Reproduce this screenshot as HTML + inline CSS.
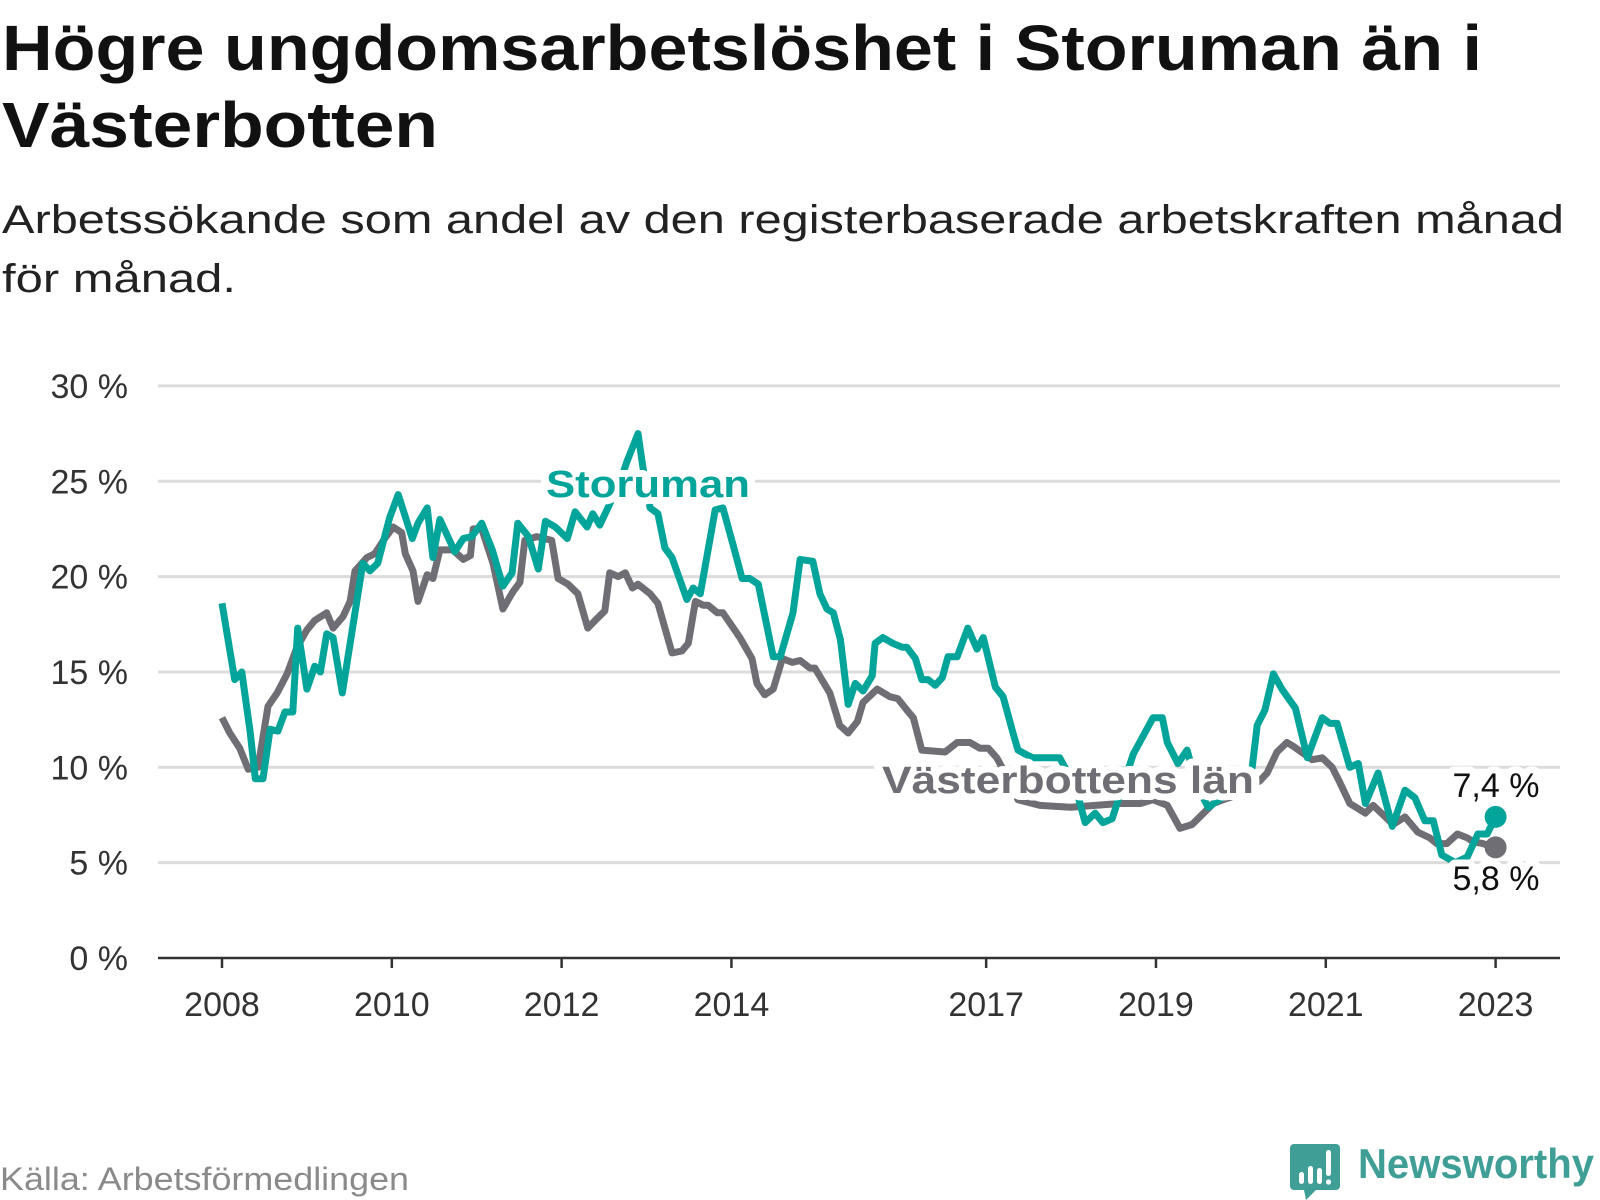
<!DOCTYPE html>
<html><head><meta charset="utf-8">
<style>
html,body{margin:0;padding:0;background:#fff;}
svg{display:block;font-family:"Liberation Sans",sans-serif;}
</style></head>
<body>
<svg id="chart" width="1600" height="1200" viewBox="0 0 1600 1200" xmlns="http://www.w3.org/2000/svg">
  <text x="2" y="70" font-size="64" font-weight="bold" fill="#111" textLength="1480" lengthAdjust="spacingAndGlyphs">Högre ungdomsarbetslöshet i Storuman än i</text>
  <text x="2" y="147" font-size="64" font-weight="bold" fill="#111" textLength="436" lengthAdjust="spacingAndGlyphs">Västerbotten</text>
  <text x="2" y="233" font-size="40" fill="#222" textLength="1562" lengthAdjust="spacingAndGlyphs">Arbetssökande som andel av den registerbaserade arbetskraften månad</text>
  <text x="2" y="292" font-size="40" fill="#222" textLength="234" lengthAdjust="spacingAndGlyphs">för månad.</text>
  <g id="grid"></g>
  <g id="axes"></g>
  <g id="series"></g>
  <g id="labels"></g>
  <text x="0" y="1190" font-size="32" fill="#8a8a8a" textLength="409" lengthAdjust="spacingAndGlyphs">Källa: Arbetsförmedlingen</text>
  <g>
    <path d="M1294 1144 h42 a4 4 0 0 1 4 4 v38 a4 4 0 0 1 -4 4 h-20 l-10 10 l-2 -10 h-10 a4 4 0 0 1 -4 -4 v-38 a4 4 0 0 1 4 -4z" fill="#3f9f97"/>
    <rect x="1299" y="1172" width="5" height="12" rx="2.5" fill="#fff"/>
    <rect x="1308" y="1166" width="5" height="18" rx="2.5" fill="#fff"/>
    <rect x="1317" y="1168" width="5" height="16" rx="2.5" fill="#fff"/>
    <rect x="1326" y="1150" width="5" height="26" rx="2.5" fill="#fff"/>
    <circle cx="1328.5" cy="1182" r="2.6" fill="#fff"/>
    <text x="1358" y="1178" font-size="42" font-weight="bold" fill="#3f9f97" textLength="236" lengthAdjust="spacingAndGlyphs">Newsworthy</text>
  </g>
</svg>
<script>
const yTicks = [0, 5, 10, 15, 20, 25, 30];
const yTickLabels = ["0 %", "5 %", "10 %", "15 %", "20 %", "25 %", "30 %"];
const xTickYears = [2008, 2010, 2012, 2014, 2017, 2019, 2021, 2023];
const xTickLabels = ["2008", "2010", "2012", "2014", "2017", "2019", "2021", "2023"];

// months since Jan 2008
const lanMonths = [0,1.1,2.5,3.7,5.1,6.5,7.8,9.2,10.6,12.0,13.1,14.8,15.7,17.1,18.1,18.8,20.5,21.6,23.0,24.2,25.4,25.9,27.0,27.7,29.0,29.8,30.8,32.6,34.1,35.1,35.5,36.7,38.3,39.7,41.1,42.1,42.8,44.5,46.6,47.5,48.9,50.3,51.7,53.0,54.1,54.8,56.0,57.0,58.0,58.8,60.5,61.6,63.6,65.0,65.9,66.9,68.0,68.7,70.0,70.8,73.2,74.9,75.6,76.7,77.9,79.2,80.6,81.7,83.1,83.8,85.9,87.3,88.5,89.8,90.6,92.6,94.4,95.5,96.8,97.7,98.9,102.2,103.9,105.7,107.1,108.3,109.5,111.1,112.5,115.6,119.9,123.4,126.9,129.8,131.6,133.6,135.4,137.1,138.2,140.1,141.5,143.9,146.7,147.7,149.1,150.5,151.4,154.1,155.5,156.9,158.0,159.4,161.6,162.7,164.7,165.5,167.2,169.0,170.7,171.7,173.1,174.6,176.0,176.8,178.2,180];
const lanValues = [12.6,11.8,11.0,9.9,10.0,13.2,13.9,14.9,16.3,17.2,17.7,18.1,17.3,17.9,18.7,20.3,21.0,21.2,22.0,22.6,22.3,21.2,20.3,18.7,20.1,19.9,21.4,21.4,20.9,21.1,22.5,22.5,20.7,18.3,19.2,19.7,21.9,22.1,21.9,19.9,19.6,19.1,17.3,17.8,18.2,20.2,20.0,20.2,19.4,19.6,19.1,18.6,16.0,16.1,16.5,18.7,18.5,18.5,18.1,18.1,16.8,15.7,14.4,13.8,14.1,15.7,15.5,15.6,15.2,15.2,13.9,12.2,11.8,12.4,13.4,14.1,13.7,13.6,13.0,12.6,10.9,10.8,11.3,11.3,11.0,11.0,10.5,9.4,8.3,8.0,7.9,8.0,8.1,8.1,8.3,8.0,6.8,7.0,7.4,8.1,8.3,8.6,9.3,9.7,10.8,11.3,11.1,10.4,10.5,10.0,9.2,8.1,7.6,8.0,7.3,7.0,7.4,6.6,6.3,6.0,6.0,6.5,6.3,6.1,6.0,5.8];

const stoMonths = [0,1.8,2.8,4.0,4.7,5.8,6.8,7.9,8.9,10.0,10.7,12.0,13.1,13.9,14.8,15.7,17.0,19.9,20.9,22.0,23.7,24.9,26.9,27.7,29.0,29.8,30.8,32.9,34.1,35.3,36.7,38.2,39.7,41.0,41.8,43.3,44.7,45.7,47.1,48.8,49.9,51.6,52.4,53.4,54.4,56.3,57.2,58.8,59.5,60.5,61.6,62.6,63.6,65.7,66.6,67.6,69.7,70.8,72.2,73.5,74.6,75.8,77.9,78.9,80.7,81.7,83.5,84.5,85.5,86.4,87.4,88.5,89.5,90.6,91.9,92.3,93.4,94.8,96.1,96.8,98.0,98.9,99.8,100.8,101.8,102.6,103.9,105.4,106.7,107.6,109.3,110.4,111.8,112.5,113.5,114.6,118.4,120.6,122.0,123.4,124.5,125.8,128.8,131.6,132.9,133.6,135.1,136.4,137.8,139.4,141.3,143.9,145.6,146.3,147.4,148.6,149.8,151.7,153.4,155.5,156.6,157.6,159.4,160.6,161.6,163.4,165.4,167.2,168.6,170.0,171.2,172.4,174.3,176.0,177.5,178.8,180];
const stoValues = [18.6,14.6,15.0,11.8,9.4,9.4,12.0,11.9,12.9,12.9,17.3,14.1,15.3,15.0,17.0,16.8,13.9,20.7,20.3,20.7,23.1,24.3,22.0,22.8,23.6,21.0,23.0,21.3,22.0,22.1,22.8,21.4,19.5,20.2,22.8,22.1,20.4,22.9,22.6,22.0,23.4,22.6,23.3,22.7,23.5,25.0,26.0,27.5,25.7,23.6,23.3,21.5,21.0,18.8,19.4,19.1,23.5,23.6,21.7,19.9,19.9,19.6,15.8,15.8,18.1,20.9,20.8,19.1,18.3,18.1,16.7,13.3,14.4,14.0,14.8,16.5,16.8,16.5,16.3,16.3,15.7,14.6,14.6,14.3,14.7,15.8,15.8,17.3,16.2,16.8,14.2,13.7,11.8,10.9,10.7,10.5,10.5,9.0,7.1,7.6,7.1,7.3,10.7,12.6,12.6,11.3,10.2,10.9,9.0,7.9,8.4,8.8,10.0,12.2,13.0,14.9,14.1,13.1,10.5,12.6,12.3,12.3,10.0,10.2,8.1,9.7,6.9,8.8,8.4,7.2,7.2,5.4,5.0,5.3,6.5,6.5,7.4];

const NS = "http://www.w3.org/2000/svg";
const X0 = 222, PXM = 1273.6 / 180; // px per month
const Y0 = 958, PXV = 19.07;
function xScale(m) { return X0 + m * PXM; }
function xYear(y) { return xScale((y - 2008) * 12); }
function yScale(v) { return Y0 - v * PXV; }
function mk(tag, attrs, parent) {
  const e = document.createElementNS(NS, tag);
  for (const k in attrs) e.setAttribute(k, attrs[k]);
  parent.appendChild(e);
  return e;
}
const grid = document.getElementById('grid');
const axes = document.getElementById('axes');
const series = document.getElementById('series');
const labels = document.getElementById('labels');

yTicks.forEach((t, i) => {
  if (t > 0) {
    const l = mk('line', {x1: 158, x2: 1560, y1: yScale(t), y2: yScale(t), stroke: '#dcdcdc', 'stroke-width': 3}, grid);
    
    
  }
  const tx = mk('text', {x: 128, y: yScale(t) + 12, 'text-anchor': 'end', 'font-size': 34, fill: '#333'}, axes);
  tx.textContent = yTickLabels[i];
  
  
});
const ax = mk('line', {x1: 158, x2: 1560, y1: Y0, y2: Y0, stroke: '#333', 'stroke-width': 2.5}, axes);


xTickYears.forEach((yr, i) => {
  const tk = mk('line', {x1: xYear(yr), x2: xYear(yr), y1: Y0, y2: Y0 + 10, stroke: '#333', 'stroke-width': 2.5}, axes);
  
  
  const tx = mk('text', {x: xYear(yr), y: 1016, 'text-anchor': 'middle', 'font-size': 34, fill: '#333'}, axes);
  tx.textContent = xTickLabels[i];
  
  
});

function pathFor(ms, vs) {
  return ms.map((m, i) => (i ? 'L' : 'M') + xScale(m).toFixed(1) + ' ' + yScale(vs[i]).toFixed(1)).join(' ');
}
const lanPath = mk('path', {d: pathFor(lanMonths, lanValues), fill: 'none', stroke: '#6f6e74', 'stroke-width': 7, 'stroke-linejoin': 'round'}, series);


const stoPath = mk('path', {d: pathFor(stoMonths, stoValues), fill: 'none', stroke: '#03a499', 'stroke-width': 7, 'stroke-linejoin': 'round'}, series);



const lastL = lanMonths.length - 1, lastS = stoMonths.length - 1;
const dl = mk('circle', {cx: xScale(lanMonths[lastL]), cy: yScale(lanValues[lastL]), r: 11, fill: '#6f6e74'}, series);


const ds = mk('circle', {cx: xScale(stoMonths[lastS]), cy: yScale(stoValues[lastS]), r: 11, fill: '#03a499'}, series);



function label(txt, x, y, attrs, name) {
  const t = mk('text', Object.assign({x: x, y: y, 'paint-order': 'stroke', stroke: '#fff', 'stroke-width': 14, 'stroke-linejoin': 'round'}, attrs), labels);
  t.textContent = txt;
  
  
}
label('Storuman', 648, 497, {'text-anchor': 'middle', 'font-size': 38, 'font-weight': 'bold', fill: '#03a499', textLength: 204, lengthAdjust: 'spacingAndGlyphs'}, 'storuman-label');
label('Västerbottens län', 1068, 793, {'text-anchor': 'middle', 'font-size': 38, 'font-weight': 'bold', fill: '#6f6e74', textLength: 372, lengthAdjust: 'spacingAndGlyphs'}, 'vasterbotten-label');
label('7,4 %', 1496, 797, {'text-anchor': 'middle', 'font-size': 34, fill: '#111'}, 'storuman-value-label');
label('5,8 %', 1496, 890, {'text-anchor': 'middle', 'font-size': 34, fill: '#111'}, 'vasterbotten-value-label');
</script>
</body></html>
